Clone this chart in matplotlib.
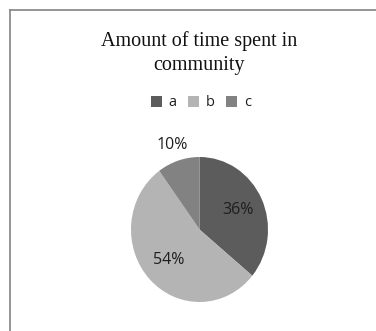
import matplotlib
matplotlib.use("Agg")
import matplotlib.pyplot as plt
from matplotlib.lines import Line2D
from matplotlib.patches import Patch
import numpy as np

categories = ["a", "b", "c"]
values = [36, 54, 10]
colors = ["#5c5c5c", "#b4b4b4", "#828282"]
title = "Amount of time spent in\ncommunity"

fig = plt.figure(figsize=(3.76, 3.31), dpi=100)
fig.patch.set_facecolor("white")

# border (top and left)
fig.add_artist(Line2D([10/376, 1.0], [1 - 10/331, 1 - 10/331], transform=fig.transFigure,
                      color="#8c8c8c", lw=1.3))
fig.add_artist(Line2D([10/376, 10/376], [0.0, 1 - 10/331], transform=fig.transFigure,
                      color="#8c8c8c", lw=1.3))

fig.text(199/376, 1 - 53/331, title, ha="center", va="center",
         family="Liberation Serif", fontsize=14.5, color="#111111", linespacing=1.4)

ax = fig.add_axes([131/376, 29/331, 137/376, 145/331])
wedges, texts, autotexts = ax.pie(values, colors=colors, startangle=90, counterclock=False,
                                  autopct="%d%%", pctdistance=0.62,
                                  textprops=dict(family="Open Sans", fontsize=11.5, color="#1e1e1e"))
ax.set_aspect("auto")
ax.set_xlim(-1, 1)
ax.set_ylim(-1, 1)
# move small slice label outside
w = wedges[2]
ang = np.deg2rad((w.theta1 + w.theta2) / 2)
autotexts[2].set_position((1.3 * np.cos(ang), 1.22 * np.sin(ang)))

handles = [Patch(facecolor=c, edgecolor="none") for c in colors]
fig.legend(handles, categories, loc="center", bbox_to_anchor=(201/376, 1 - 103/331), ncol=3,
           frameon=False, handlelength=0.75, handleheight=0.75, handletextpad=0.45,
           columnspacing=0.8, prop=dict(family="Open Sans", size=10.5), labelcolor="#1e1e1e")

fig.savefig("out.png", dpi=100)
